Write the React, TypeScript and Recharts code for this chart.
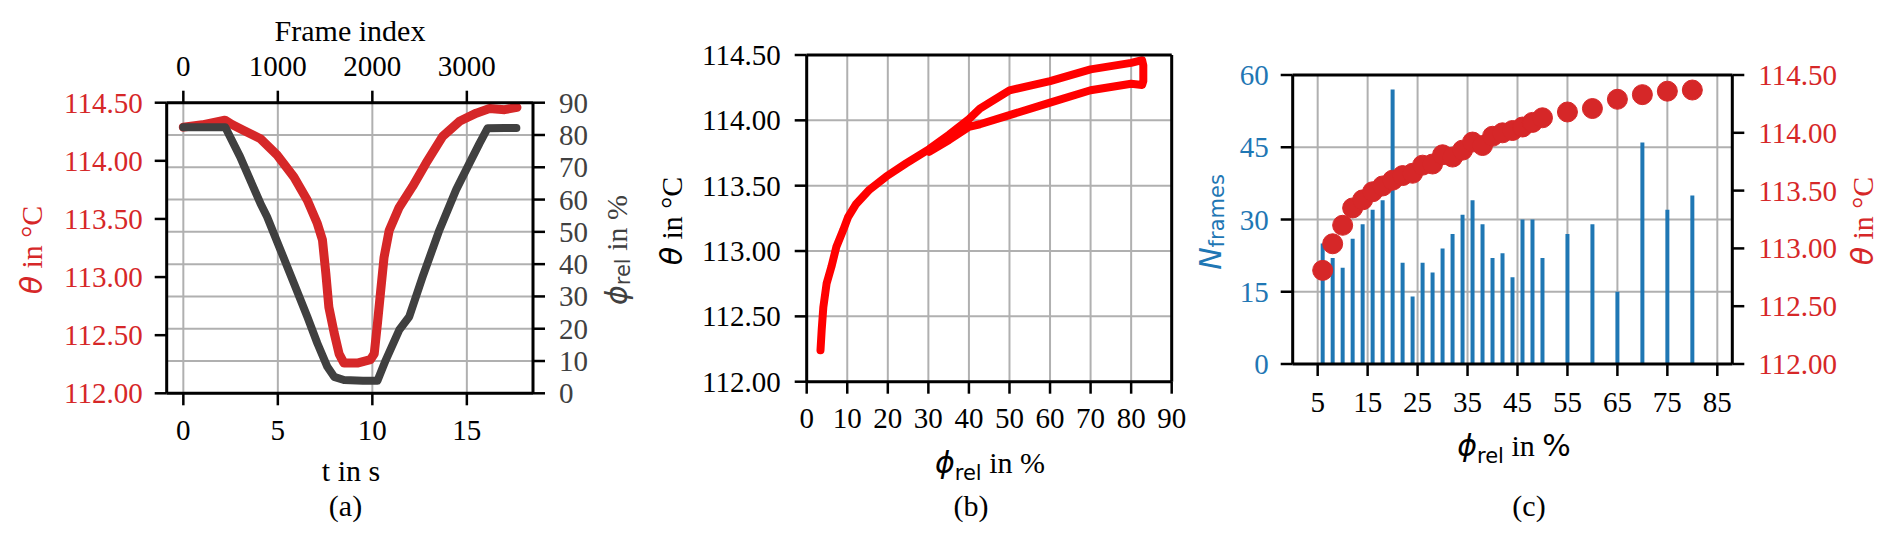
import React from "react";
import { ComposedChart, Line, Bar, XAxis, YAxis, CartesianGrid } from "recharts";

const SERIF = '"Liberation Serif", "DejaVu Serif", serif';
const SANS = '"DejaVu Sans", sans-serif';
const RED = "#d62728";
const PURE_RED = "#ff0000";
const BLUE = "#1f77b4";
const DARK = "#404040";
const GRID = "#b0b0b0";

// (a) time traces
const thetaTime = [0, 1.0, 2.2, 2.6, 3.2, 4.08, 4.96, 5.85, 6.56, 7.09, 7.36, 7.54, 7.7, 7.98, 8.24, 8.5, 9.2, 9.9, 10.1, 10.27, 10.44, 10.62, 10.89, 11.42, 12.13, 12.84, 13.72, 14.61, 15.5, 16.2, 17.0, 17.65];
const thetaTrace = [114.29, 114.31, 114.35, 114.31, 114.26, 114.19, 114.05, 113.86, 113.66, 113.46, 113.32, 113.03, 112.74, 112.52, 112.34, 112.26, 112.26, 112.29, 112.34, 112.6, 112.88, 113.17, 113.4, 113.6, 113.78, 113.98, 114.21, 114.34, 114.41, 114.45, 114.44, 114.46];
const phiTime = [0, 1.0, 2.22, 3.0, 4.08, 4.43, 5.14, 5.85, 6.56, 7.09, 7.62, 7.98, 8.5, 9.5, 10.27, 10.71, 11.42, 11.95, 12.66, 13.55, 14.43, 14.96, 15.67, 16.1, 17.0, 17.62];
const phiTrace = [82.4, 82.4, 82.4, 73.3, 58.8, 54.7, 44.4, 34.1, 23.7, 15.5, 8.2, 5.1, 4.1, 3.9, 3.9, 10.3, 19.6, 23.7, 36.1, 50.6, 63.0, 69.2, 77.4, 82.1, 82.2, 82.2];
const timeDomain = [-0.88, 18.5];
const timeTicks = [0, 5, 10, 15];
const framesPerSecond = 200;
const frameTicks = [0, 1000, 2000, 3000];
const thetaTicks = [112, 112.5, 113, 113.5, 114, 114.5];
const phiTicks = [0, 10, 20, 30, 40, 50, 60, 70, 80, 90];

// (b) hysteresis loop theta over phi
const loopPhi = [3.4, 3.7, 4.1, 4.9, 6.1, 7.3, 9.0, 10.2, 12.2, 15.5, 19.6, 24.5, 30.2, 35.1, 40.0, 42.7, 50, 60, 70, 80, 82.7, 83.0, 83.0, 82.7, 80, 70, 60, 50, 42.7, 40.0, 35.1, 30.2];
const loopTheta = [112.24, 112.4, 112.57, 112.75, 112.88, 113.03, 113.16, 113.26, 113.36, 113.47, 113.57, 113.67, 113.78, 113.89, 114.01, 114.09, 114.23, 114.3, 114.39, 114.44, 114.46, 114.42, 114.3, 114.27, 114.28, 114.23, 114.135, 114.04, 113.97, 113.95, 113.85, 113.76];
const phiTicksB = [0, 10, 20, 30, 40, 50, 60, 70, 80, 90];

// (c) binned frames and mean theta
const binPhi = [6, 8, 10, 12, 14, 16, 18, 20, 22, 24, 26, 28, 30, 32, 34, 36, 38, 40, 42, 44, 46, 48, 50, 55, 60, 65, 70, 75, 80];
const binFrames = [25, 22, 20, 26, 29, 32, 34, 57, 21, 14, 21, 19, 24, 27, 31, 34, 29, 22, 23, 18, 30, 30, 22, 27, 29, 15, 46, 32, 35];
const binTheta = [112.81, 113.04, 113.2, 113.35, 113.42, 113.49, 113.54, 113.59, 113.63, 113.65, 113.72, 113.73, 113.81, 113.79, 113.85, 113.92, 113.89, 113.97, 114.0, 114.02, 114.05, 114.09, 114.13, 114.18, 114.21, 114.29, 114.33, 114.36, 114.37];
const binTicks = [5, 15, 25, 35, 45, 55, 65, 75, 85];
const frameCountTicks = [0, 15, 30, 45, 60];

const thetaSeries = thetaTime.map((t, i) => ({ t, theta: thetaTrace[i] }));
const phiSeries = phiTime.map((t, i) => ({ t, frame: t * framesPerSecond, phi: phiTrace[i] }));
const loopSeries = loopPhi.map((phi, i) => ({ phi, theta: loopTheta[i] }));
const binSeries = binPhi.map((phi, i) => ({ phi, frames: binFrames[i], theta: binTheta[i] }));

const tickLine = { stroke: "#000", strokeWidth: 2.5 };
const axisLine = { stroke: "#000", strokeWidth: 3 };
const fmt2 = (v: number) => v.toFixed(2);

// serif tick label, placed by recharts, drawn by us so the font sticks
const tickText = (fill: string, anchor: string, dy: number, fmt: (v: number) => string = String) =>
  (p: any) => (
    <text x={p.x} y={p.y} dy={dy} textAnchor={anchor} fill={fill} fontSize={29} fontFamily={SERIF}>
      {fmt(p.payload.value)}
    </text>
  );

function PanelA() {
  return (
    <div style={{ position: "absolute", left: 0, top: 0, width: 640, height: 540 }}>
      <ComposedChart width={640} height={540} margin={{ top: 52.7, right: 37, bottom: 106.7, left: 86.7 }}>
        <CartesianGrid xAxisId="t" yAxisId="phi" stroke={GRID} strokeWidth={2} />
        <XAxis xAxisId="t" dataKey="t" type="number" domain={timeDomain} ticks={timeTicks} allowDataOverflow
          height={40} interval={0} tickSize={12} tickMargin={16} tick={tickText("#000", "middle", 19)} tickLine={tickLine} axisLine={axisLine} />
        <XAxis xAxisId="frame" dataKey="frame" orientation="top" type="number" domain={timeDomain.map((t) => t * framesPerSecond)}
          ticks={frameTicks} allowDataOverflow height={50} interval={0} tickSize={12} tickMargin={15}
          tick={tickText("#000", "middle", 0)} tickLine={tickLine} axisLine={axisLine} />
        <YAxis yAxisId="theta" orientation="left" type="number" domain={[112, 114.5]} ticks={thetaTicks} allowDataOverflow
          width={80} interval={0} tickSize={12} tickMargin={12} tick={tickText(RED, "end", 10, fmt2)} tickLine={tickLine} axisLine={axisLine} />
        <YAxis yAxisId="phi" orientation="right" type="number" domain={[0, 90]} ticks={phiTicks} allowDataOverflow
          width={70} interval={0} tickSize={12} tickMargin={14} tick={tickText(DARK, "start", 10)} tickLine={tickLine} axisLine={axisLine} />
        <Line xAxisId="frame" yAxisId="phi" data={phiSeries} dataKey="phi" stroke="none" dot={false} activeDot={false} isAnimationActive={false} />
        <Line xAxisId="t" yAxisId="theta" data={thetaSeries} dataKey="theta" type="linear" stroke={RED} strokeWidth={9}
          strokeLinejoin="round" strokeLinecap="round" dot={false} activeDot={false} isAnimationActive={false} />
        <Line xAxisId="t" yAxisId="phi" data={phiSeries} dataKey="phi" type="linear" stroke={DARK} strokeWidth={8}
          strokeLinejoin="round" strokeLinecap="round" dot={false} activeDot={false} isAnimationActive={false} />
      </ComposedChart>
    </div>
  );
}

function PanelB() {
  return (
    <div style={{ position: "absolute", left: 640, top: 0, width: 600, height: 540 }}>
      <ComposedChart width={600} height={540} margin={{ top: 54, right: 67.3, bottom: 118.3, left: 86.7 }}>
        <CartesianGrid stroke={GRID} strokeWidth={2} />
        <XAxis dataKey="phi" type="number" domain={[0, 90]} ticks={phiTicksB} allowDataOverflow height={40} interval={0}
          tickSize={12} tickMargin={15} tick={tickText("#000", "middle", 19)} tickLine={tickLine} axisLine={axisLine} />
        <XAxis xAxisId="frameTop" dataKey="phi" orientation="top" type="number" domain={[0, 90]} allowDataOverflow height={1}
          ticks={[0]} tick={false} tickLine={false} axisLine={axisLine} />
        <YAxis type="number" domain={[112, 114.5]} ticks={thetaTicks} allowDataOverflow width={80} interval={0}
          tickSize={12} tickMargin={14} tick={tickText("#000", "end", 10, fmt2)} tickLine={tickLine} axisLine={axisLine} />
        <YAxis yAxisId="frameRight" orientation="right" type="number" domain={[112, 114.5]} allowDataOverflow width={1}
          ticks={[112]} tick={false} tickLine={false} axisLine={axisLine} />
        <Line xAxisId="frameTop" yAxisId="frameRight" data={loopSeries} dataKey="theta" stroke="none" dot={false}
          activeDot={false} isAnimationActive={false} />
        <Line data={loopSeries} dataKey="theta" type="linear" stroke={PURE_RED} strokeWidth={8} strokeLinejoin="round"
          strokeLinecap="round" dot={false} activeDot={false} isAnimationActive={false} />
      </ComposedChart>
    </div>
  );
}

function PanelC() {
  return (
    <div style={{ position: "absolute", left: 1190, top: 0, width: 702, height: 540 }}>
      <ComposedChart width={702} height={540} data={binSeries} margin={{ top: 74, right: 59.7, bottom: 136, left: 32.7 }}>
        <CartesianGrid yAxisId="frames" stroke={GRID} strokeWidth={2} />
        <XAxis dataKey="phi" type="number" domain={[0, 88]} ticks={binTicks} allowDataOverflow height={40} interval={0}
          tickSize={12} tickMargin={17} tick={tickText("#000", "middle", 19)} tickLine={tickLine} axisLine={axisLine} />
        <XAxis xAxisId="frameTop" dataKey="phi" orientation="top" type="number" domain={[0, 88]} allowDataOverflow height={1}
          ticks={[0]} tick={false} tickLine={false} axisLine={axisLine} />
        <YAxis yAxisId="frames" orientation="left" type="number" domain={[0, 60]} ticks={frameCountTicks} allowDataOverflow
          width={70} interval={0} tickSize={12} tickMargin={12} tick={tickText(BLUE, "end", 10)} tickLine={tickLine} axisLine={axisLine} />
        <YAxis yAxisId="theta" orientation="right" type="number" domain={[112, 114.5]} ticks={thetaTicks} allowDataOverflow
          width={100} interval={0} tickSize={12} tickMargin={14} tick={tickText(RED, "start", 10, fmt2)} tickLine={tickLine} axisLine={axisLine} />
        <Bar yAxisId="frames" dataKey="frames" fill={BLUE} barSize={4} isAnimationActive={false} />
        <Line xAxisId="frameTop" yAxisId="theta" dataKey="theta" stroke="none" dot={false} activeDot={false} isAnimationActive={false} />
        <Line yAxisId="theta" dataKey="theta" type="linear" stroke="none" dot={{ r: 10, fill: RED, stroke: RED, strokeWidth: 1 }}
          activeDot={false} isAnimationActive={false} />
      </ComposedChart>
    </div>
  );
}

function Phi() {
  return (
    <>
      <tspan fontFamily={SANS} fontStyle="italic">ϕ</tspan>
      <tspan fontFamily={SANS} fontSize={21} dy={7}>rel</tspan>
      <tspan fontFamily={SERIF} dy={-7}> in </tspan>
    </>
  );
}

function Titles() {
  const base = { fontSize: 30, fontFamily: SERIF };
  return (
    <svg width={1892} height={540} style={{ position: "absolute", left: 0, top: 0, pointerEvents: "none" }}>
      {/* (a) */}
      <text x={350} y={41} textAnchor="middle" fill="#000" {...base}>Frame index</text>
      <text x={351} y={481} textAnchor="middle" fill="#000" {...base}>t in s</text>
      <text x={345.5} y={516} textAnchor="middle" fill="#000" {...base}>(a)</text>
      <text x={31} y={250} transform="rotate(-90 31 250)" textAnchor="middle" dominantBaseline="central" fill={RED} {...base}>
        <tspan fontFamily={SANS} fontStyle="italic">θ</tspan> in °C
      </text>
      <text x={616} y={250} transform="rotate(-90 616 250)" textAnchor="middle" dominantBaseline="central" fill={DARK} {...base}>
        <Phi />%
      </text>
      {/* (b) */}
      <text x={990} y={473} textAnchor="middle" fill="#000" {...base}>
        <Phi />%
      </text>
      <text x={971} y={516} textAnchor="middle" fill="#000" {...base}>(b)</text>
      <text x={671} y={221} transform="rotate(-90 671 221)" textAnchor="middle" dominantBaseline="central" fill="#000" {...base}>
        <tspan fontFamily={SANS} fontStyle="italic">θ</tspan> in °C
      </text>
      {/* (c) */}
      <text x={1514} y={456} textAnchor="middle" fill="#000" {...base}>
        <Phi />
        <tspan fontFamily={SANS}>%</tspan>
      </text>
      <text x={1529} y={516} textAnchor="middle" fill="#000" {...base}>(c)</text>
      <text x={1210} y={222} transform="rotate(-90 1210 222)" textAnchor="middle" dominantBaseline="central" fill={BLUE} {...base}>
        <tspan fontFamily={SANS} fontStyle="italic">N</tspan>
        <tspan fontFamily={SANS} fontSize={21} dy={7}>frames</tspan>
      </text>
      <text x={1862} y={221} transform="rotate(-90 1862 221)" textAnchor="middle" dominantBaseline="central" fill={RED} {...base}>
        <tspan fontFamily={SANS} fontStyle="italic">θ</tspan> in °C
      </text>
    </svg>
  );
}

export default function App() {
  return (
    <div style={{ position: "absolute", left: 0, top: 0, width: 1892, height: 540, background: "#fff" }}>
      <PanelA />
      <PanelB />
      <PanelC />
      <Titles />
    </div>
  );
}
